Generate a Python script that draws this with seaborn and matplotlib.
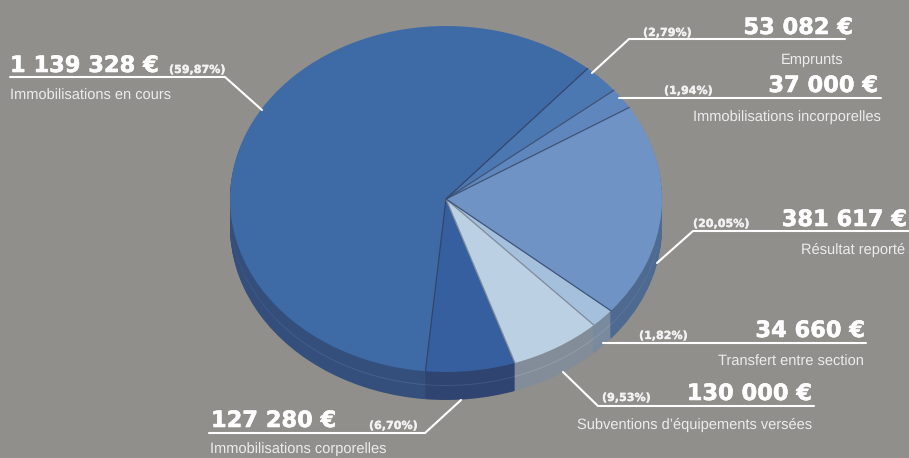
import matplotlib
matplotlib.use('Agg')
import matplotlib.pyplot as plt
import matplotlib.patheffects as pe
import numpy as np
import seaborn as sns

# valeurs en euros, dans l'ordre du camembert
postes = ['Immobilisations en cours', 'Immobilisations corporelles', "Subventions d’équipements versées",
          'Transfert entre section', 'Résultat reporté', 'Immobilisations incorporelles', 'Emprunts']
valeurs = [1139328, 127280, 130000, 34660, 381617, 37000, 53082]
montants = ['1 139 328 €', '127 280 €', '130 000 €', '34 660 €', '381 617 €', '37 000 €', '53 082 €']
pourcents = ['(59,87%)', '(6,70%)', '(9,53%)', '(1,82%)', '(20,05%)', '(1,94%)', '(2,79%)']

couleurs_dessus = ['#3e6aa6', '#365f9f', '#bcd0e4', '#a5c0dc', '#7093c5', '#5f87bd', '#4c78b2']
couleurs_cote = ['#344f7c', '#2f4470', '#828d99', '#7a8a9e', '#4e6a90', '#4e6a90', '#44628f']
couleurs_bord = ['#33466c', '#7f8b99', '#7f8b99', '#3f5478', '#3f5478', '#3f5478', '#33466c']
fond = '#918f8c'

sns.set_theme(style='white', rc={'figure.facecolor': fond, 'axes.facecolor': fond,
                                 'text.hinting': 'no_hinting'})

fig = plt.figure(figsize=(9.09, 4.58), dpi=100)

# camembert : unité = rayon, on écrase ensuite les axes pour faire l'ellipse
rx, ry = 216, 173
cx, cy = 446, 199
epaisseur = 28
ax = fig.add_axes([0, 0, 1, 1])

for d in range(epaisseur, 0, -1):
    cols = sns.color_palette(couleurs_cote)
    if d == 14:
        cols = [tuple(min(1, c + 0.07) for c in col) for col in cols]
    ax.pie(valeurs, startangle=49, colors=cols, center=(0, -d / ry), radius=1,
           wedgeprops={'linewidth': 0})

parts = ax.pie(valeurs, startangle=49, colors=sns.color_palette(couleurs_dessus), center=(0, 0), radius=1,
               wedgeprops={'linewidth': 0})[0]

# traits entre les parts, seulement sur les rayons
for w, c in zip(parts, couleurs_bord):
    a = np.deg2rad(w.theta2)
    ax.plot([0, np.cos(a)], [0, np.sin(a)], color=c, lw=0.9)

ax.set_aspect('auto')
ax.set_xlim(-cx / rx, (909 - cx) / rx)
ax.set_ylim(-(458 - cy) / ry, cy / ry)
ax.axis('off')

# textes et traits en pixels
ov = fig.add_axes([0, 0, 1, 1])
ov.set_xlim(0, 909)
ov.set_ylim(458, 0)
ov.axis('off')
ov.patch.set_alpha(0)

traits = [
    ([10, 225, 262], [77, 77, 110]),
    ([209, 425, 461], [433, 433, 400]),
    ([814, 598, 563], [406, 406, 372]),
    ([866, 603], [343, 343]),
    ([909, 693, 657], [231, 231, 263]),
    ([881, 619], [98, 98]),
    ([845, 629, 592], [39, 39, 73]),
]
for xs, ys in traits:
    ov.plot(xs, ys, color='white', lw=1.5, solid_joinstyle='miter')

# x, ligne de base, alignement du montant / x, base du pourcentage / x, centre, alignement du poste
pos_montant = [(10, 72, 'left'), (211, 427, 'left'), (812, 400, 'right'), (865, 337, 'right'),
               (907, 226, 'right'), (878, 92, 'right'), (853, 34, 'right')]
pos_pct = [(169, 73), (369, 429), (602, 401), (639, 339), (693, 227), (664, 94), (643, 36)]
pos_poste = [(10, 96, 'left'), (210, 449, 'left'), (812, 425, 'right'), (864, 362, 'right'),
             (905, 250, 'right'), (881, 117, 'right'), (843, 60, 'right')]

for i in range(len(postes)):
    x, y, ha = pos_montant[i]
    ov.text(x, y, montants[i], color='white', fontsize=16.2, fontweight='bold',
            family='DejaVu Sans', ha=ha, va='baseline',
            path_effects=[pe.withStroke(linewidth=0.4, foreground='white')])
    x, y = pos_pct[i]
    ov.text(x, y, pourcents[i], color='#f2f2f2', fontsize=8.0, fontweight='bold',
            family='DejaVu Sans', ha='left', va='baseline',
            path_effects=[pe.withStroke(linewidth=0.25, foreground='#f2f2f2')])
    x, y, ha = pos_poste[i]
    ov.text(x, y, postes[i], color='#ececec', fontsize=10.5,
            family='Liberation Sans', ha=ha, va='center')

fig.savefig('out.png', dpi=100, facecolor=fond)
